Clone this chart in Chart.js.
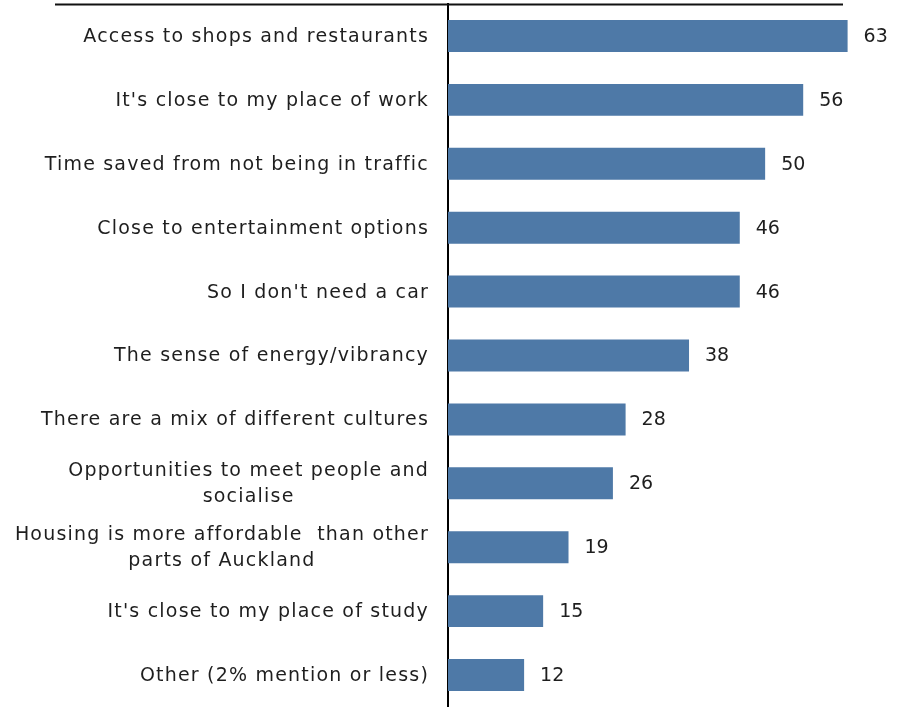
<!DOCTYPE html>
<html><head><meta charset="utf-8">
<script src="https://cdn.jsdelivr.net/npm/chart.js@4/dist/chart.umd.min.js"></script>
<style>html,body{margin:0;padding:0;background:#fff;} #wrap{width:901px;height:707px;position:relative;}</style>
</head><body>
<div id="wrap"><canvas id="c" width="901" height="707"></canvas></div>
<script>
const categories = [
  "Access to shops and restaurants",
  "It's close to my place of work",
  "Time saved from not being in traffic",
  "Close to entertainment options",
  "So I don't need a car",
  "The sense of energy/vibrancy",
  "There are a mix of different cultures",
  ["Opportunities to meet people and", "socialise"],
  ["Housing is more affordable  than other", "parts of Auckland"],
  "It's close to my place of study",
  "Other (2% mention or less)"
];
const values = [63, 56, 50, 46, 46, 38, 28, 26, 19, 15, 12];

const FONT = '19px "DejaVu Sans", sans-serif';
const TEXT_COLOR = '#1e1e1e';
const BAR_COLOR = '#4E79A7';

const categoryLabelsPlugin = {
  id: 'categoryLabels',
  afterDraw(chart) {
    const ctx = chart.ctx;
    const ys = chart.scales.y;
    const rightEdge = chart.chartArea.left - 19;
    const lineH = 26;
    ctx.save();
    ctx.font = FONT;
    ctx.letterSpacing = '1.2px';
    ctx.fillStyle = TEXT_COLOR;
    ctx.textBaseline = 'middle';
    ctx.textAlign = 'center';
    categories.forEach((lab, i) => {
      const lines = Array.isArray(lab) ? lab : [lab];
      const w = Math.max(...lines.map(l => ctx.measureText(l).width));
      const cx = rightEdge - w / 2;
      const cy = ys.getPixelForTick(i) + 1;
      const y0 = cy - (lines.length - 1) * lineH / 2;
      lines.forEach((l, k) => ctx.fillText(l, cx, y0 + k * lineH));
    });
    ctx.restore();
  }
};

const valueLabelsPlugin = {
  id: 'valueLabels',
  afterDatasetsDraw(chart) {
    const ctx = chart.ctx;
    const meta = chart.getDatasetMeta(0);
    ctx.save();
    ctx.font = FONT;
    ctx.fillStyle = TEXT_COLOR;
    ctx.textBaseline = 'middle';
    ctx.textAlign = 'left';
    meta.data.forEach((bar, i) => {
      ctx.fillText(String(values[i]), bar.x + 16, bar.y + 1);
    });
    ctx.restore();
  }
};

const topRulePlugin = {
  id: 'topRule',
  afterDraw(chart) {
    const ctx = chart.ctx;
    ctx.save();
    ctx.strokeStyle = '#111';
    ctx.lineWidth = 2;
    ctx.beginPath();
    ctx.moveTo(55, 4.5);
    ctx.lineTo(843, 4.5);
    ctx.stroke();
    ctx.restore();
  }
};

new Chart(document.getElementById('c'), {
  type: 'bar',
  data: {
    labels: categories,
    datasets: [{
      data: values,
      backgroundColor: BAR_COLOR,
      borderWidth: 0,
      barPercentage: 0.5,
      categoryPercentage: 1.0
    }]
  },
  options: {
    indexAxis: 'y',
    responsive: false,
    animation: false,
    devicePixelRatio: 1,
    layout: { padding: { top: 4, right: 9, bottom: 0, left: 0 } },
    plugins: { legend: { display: false }, tooltip: { enabled: false } },
    scales: {
      x: { display: false, min: 0, max: 70 },
      y: {
        z: 1,
        grid: { display: false, drawTicks: false },
        border: { display: true, color: '#000', width: 2 },
        ticks: { display: false },
        afterFit(s) { s.width = 448; }
      }
    }
  },
  plugins: [categoryLabelsPlugin, valueLabelsPlugin, topRulePlugin]
});
</script>
</body></html>
